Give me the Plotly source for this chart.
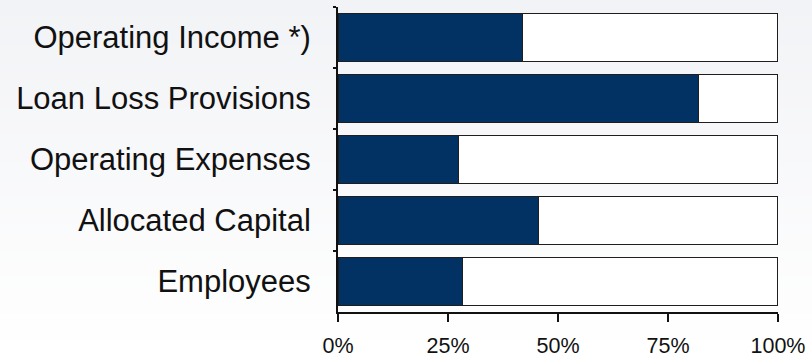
import plotly.graph_objects as go

# Share of each metric (percent); the remainder fills the bar to 100%
categories = ["Operating Income *)", "Loan Loss Provisions", "Operating Expenses",
              "Allocated Capital", "Employees"]
share = [41.9, 81.9, 27.3, 45.5, 28.3]
rest = [100 - v for v in share]
x_ticks = [0, 25, 50, 75, 100]
x_tick_text = ["0%", "25%", "50%", "75%", "100%"]

NAVY = "#013263"
EDGE = "#1e1e1e"

fig = go.Figure()
fig.add_trace(go.Bar(y=categories, x=share, orientation="h",
                     marker=dict(color=NAVY, line=dict(color=EDGE, width=1.2)),
                     hoverinfo="skip"))
fig.add_trace(go.Bar(y=categories, x=rest, orientation="h",
                     marker=dict(color="white", line=dict(color=EDGE, width=1.2)),
                     hoverinfo="skip"))

# Soft vertical background gradient built from thin strips
shapes = []
n = 40
top_c = (242, 243, 246)
bot_c = (255, 255, 255)
y0_paper = -47 / 305
y1_paper = 1 + 7 / 305
for i in range(n):
    t = i / (n - 1)
    r = round(top_c[0] + (bot_c[0] - top_c[0]) * t)
    g = round(top_c[1] + (bot_c[1] - top_c[1]) * t)
    b = round(top_c[2] + (bot_c[2] - top_c[2]) * t)
    ya = y1_paper - (y1_paper - y0_paper) * i / n
    yb = y1_paper - (y1_paper - y0_paper) * (i + 1) / n
    shapes.append(dict(type="rect", xref="paper", yref="paper",
                       x0=-1.0, x1=1.2, y0=yb - 0.002, y1=ya + 0.002,
                       fillcolor=f"rgb({r},{g},{b})", line=dict(width=0),
                       layer="below"))

fig.update_layout(
    width=812, height=359,
    margin=dict(l=338, r=34, t=7, b=47),
    barmode="stack",
    bargap=0.21,
    showlegend=False,
    paper_bgcolor="white",
    plot_bgcolor="rgba(0,0,0,0)",
    shapes=shapes,
    font=dict(family="Liberation Sans, Arial, sans-serif", color="#111111"),
    xaxis=dict(range=[0, 100], tickvals=x_ticks, ticktext=x_tick_text,
               showgrid=False, zeroline=False, showline=True,
               linecolor="#111111", linewidth=1.5,
               ticks="outside", ticklen=8, tickwidth=1.5, tickcolor="#111111",
               ticklabelstandoff=5, automargin=False,
               tickfont=dict(size=21.5), fixedrange=True),
    yaxis=dict(autorange="reversed", showgrid=False, zeroline=False,
               showline=True, linecolor="#111111", linewidth=2,
               ticks="outside", tickson="boundaries", ticklen=3,
               tickcolor="#111111", tickwidth=1.5,
               ticklabelstandoff=19, automargin=False,
               tickfont=dict(size=31), fixedrange=True),
)

fig.write_html("out.html")
